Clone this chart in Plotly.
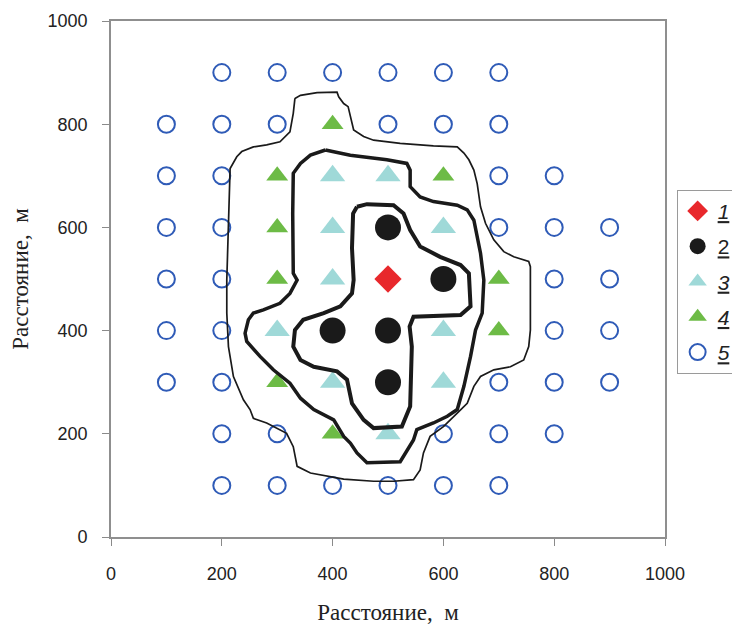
import plotly.graph_objects as go

# ---- point data (metres) ----
p1_x = [500]
p1_y = [500]

p2_x = [500, 600, 400, 500, 500]
p2_y = [600, 500, 400, 400, 300]

p3_x = [400, 500, 400, 600, 400, 300, 600, 400, 600, 500]
p3_y = [700, 700, 600, 600, 500, 400, 400, 300, 300, 200]

p4_x = [400, 300, 600, 300, 300, 700, 700, 300, 400]
p4_y = [800, 700, 700, 600, 500, 500, 400, 300, 200]

p5_x = [200, 300, 400, 500, 600, 700,
        100, 200, 300, 500, 600, 700,
        100, 200, 700, 800,
        100, 200, 700, 800, 900,
        100, 200, 800, 900,
        100, 200, 800, 900,
        100, 200, 700, 800, 900,
        200, 300, 600, 700, 800,
        200, 300, 400, 500, 600, 700]
p5_y = [900, 900, 900, 900, 900, 900,
        800, 800, 800, 800, 800, 800,
        700, 700, 700, 700,
        600, 600, 600, 600, 600,
        500, 500, 500, 500,
        400, 400, 400, 400,
        300, 300, 300, 300, 300,
        200, 200, 200, 200, 200,
        100, 100, 100, 100, 100, 100]

legend_names = ["<i><u>1</u></i>", "<u>2</u>", "<i><u>3</u></i>", "<i><u>4</u></i>", "<i><u>5</u></i>"]
x_ticks = [0, 200, 400, 600, 800, 1000]
y_ticks = [0, 200, 400, 600, 800, 1000]
axis_title = "Расстояние,\u00a0\u00a0м"

# ---- contour lines (metres) ----
outer_x = [332, 342, 372, 408, 411, 420, 428, 432, 438, 456, 474, 522, 582, 625, 637, 646, 655, 661,
           667, 676, 691, 709, 727, 754, 757, 757, 754, 745, 721, 691, 667, 655, 643, 625, 600, 576,
           564, 558, 546, 510, 474, 420, 360, 336, 329, 317, 281, 257, 251, 239, 221, 212, 209, 209,
           212, 215, 227, 236, 257, 281, 305, 323, 329, 332]
outer_y = [850, 856, 861, 862, 853, 840, 834, 814, 789, 776, 769, 763, 758, 756, 744, 731, 711, 685,
           640, 608, 576, 553, 543, 534, 524, 401, 369, 343, 330, 324, 311, 292, 259, 240, 214, 195,
           163, 130, 111, 108, 108, 112, 124, 137, 175, 201, 221, 230, 247, 266, 311, 369, 434, 498,
           627, 714, 737, 747, 756, 760, 766, 785, 821, 850]

mid_x = [387, 432, 498, 534, 540, 540, 558, 582, 625, 643, 655, 667, 673, 670, 658, 649, 637, 625,
         607, 582, 552, 546, 522, 462, 444, 432, 420, 402, 366, 342, 323, 293, 269, 245, 242, 248,
         257, 275, 305, 323, 336, 329, 328, 329, 342, 360, 387]
mid_y = [750, 740, 731, 724, 711, 679, 659, 650, 643, 634, 614, 550, 498, 434, 401, 350, 292, 247,
         234, 221, 208, 188, 146, 144, 163, 182, 195, 227, 247, 269, 298, 324, 350, 379, 395, 421,
         434, 440, 453, 472, 498, 511, 627, 705, 724, 740, 750]

inner_x = [444, 462, 510, 528, 540, 558, 594, 631, 646, 647, 649, 631, 546, 539, 543, 540, 525, 474,
           456, 435, 426, 408, 366, 342, 329, 332, 347, 384, 414, 435, 438, 435, 437, 444]
inner_y = [640, 645, 643, 627, 595, 563, 543, 527, 511, 459, 447, 430, 427, 408, 369, 253, 214, 211,
           227, 259, 305, 321, 330, 343, 369, 401, 421, 434, 447, 472, 498, 560, 627, 640]

fig = go.Figure()

fig.add_trace(go.Scatter(x=p1_x, y=p1_y, mode="markers", name=legend_names[0], legendgroup="g1",
                         marker=dict(symbol="diamond", size=21, color="#e8282c", line=dict(width=0))))
fig.add_trace(go.Scatter(x=p2_x, y=p2_y, mode="markers", name=legend_names[1], legendgroup="g2",
                         marker=dict(symbol="circle", size=26, color="#1a1a1a", line=dict(width=0))))
fig.add_trace(go.Scatter(x=p3_x, y=p3_y, mode="markers", name=legend_names[2], legendgroup="g3",
                         marker=dict(symbol="triangle-up", size=22, color="#9fd9d8", line=dict(width=0))))
fig.add_trace(go.Scatter(x=p4_x, y=p4_y, mode="markers", name=legend_names[3], legendgroup="g4",
                         marker=dict(symbol="triangle-up", size=19, color="#6dbb46", line=dict(width=0))))
fig.add_trace(go.Scatter(x=p5_x, y=p5_y, mode="markers", name=legend_names[4], legendgroup="g5",
                         marker=dict(symbol="circle-open", size=17, color="#2f5bb7",
                                     line=dict(width=2, color="#2f5bb7"))))

for cx, cy, w in [(outer_x, outer_y, 1.7), (mid_x, mid_y, 3.5), (inner_x, inner_y, 4)]:
    fig.add_trace(go.Scatter(x=cx, y=cy, mode="lines", showlegend=False, hoverinfo="skip",
                             line=dict(color="#1a1a1a", width=w)))

axis_common = dict(range=[0, 1000], tickmode="array", showgrid=False, zeroline=False,
                   ticks="outside", ticklen=7, tickwidth=1.2, tickcolor="#8a8a8a",
                   showline=True, mirror=True, linecolor="#8f8f8f", linewidth=1.6,
                   tickfont=dict(family="Liberation Sans, Arial", size=18, color="#222222"),
                   title=dict(text=axis_title,
                              font=dict(family="Liberation Serif, Times New Roman", size=23,
                                        color="#222222")))

fig.update_xaxes(**axis_common, tickvals=x_ticks, ticktext=[str(v) for v in x_ticks],
                 ticklabelstandoff=13)
fig.update_yaxes(**axis_common, tickvals=y_ticks, ticktext=[str(v) for v in y_ticks],
                 ticklabelstandoff=11)
fig.update_xaxes(title_standoff=24)
fig.update_yaxes(title_standoff=16)

fig.update_layout(
    width=732, height=617,
    margin=dict(l=103, r=75, t=13, b=88, autoexpand=False),
    paper_bgcolor="white", plot_bgcolor="white",
    legend=dict(x=1.021, xanchor="left", y=0.673, yanchor="top",
                bordercolor="#9a9a9a", borderwidth=1, bgcolor="white",
                font=dict(family="Liberation Sans, Arial", size=21, color="#222222"),
                itemwidth=30, tracegroupgap=5),
)

fig.write_html("out.html")
